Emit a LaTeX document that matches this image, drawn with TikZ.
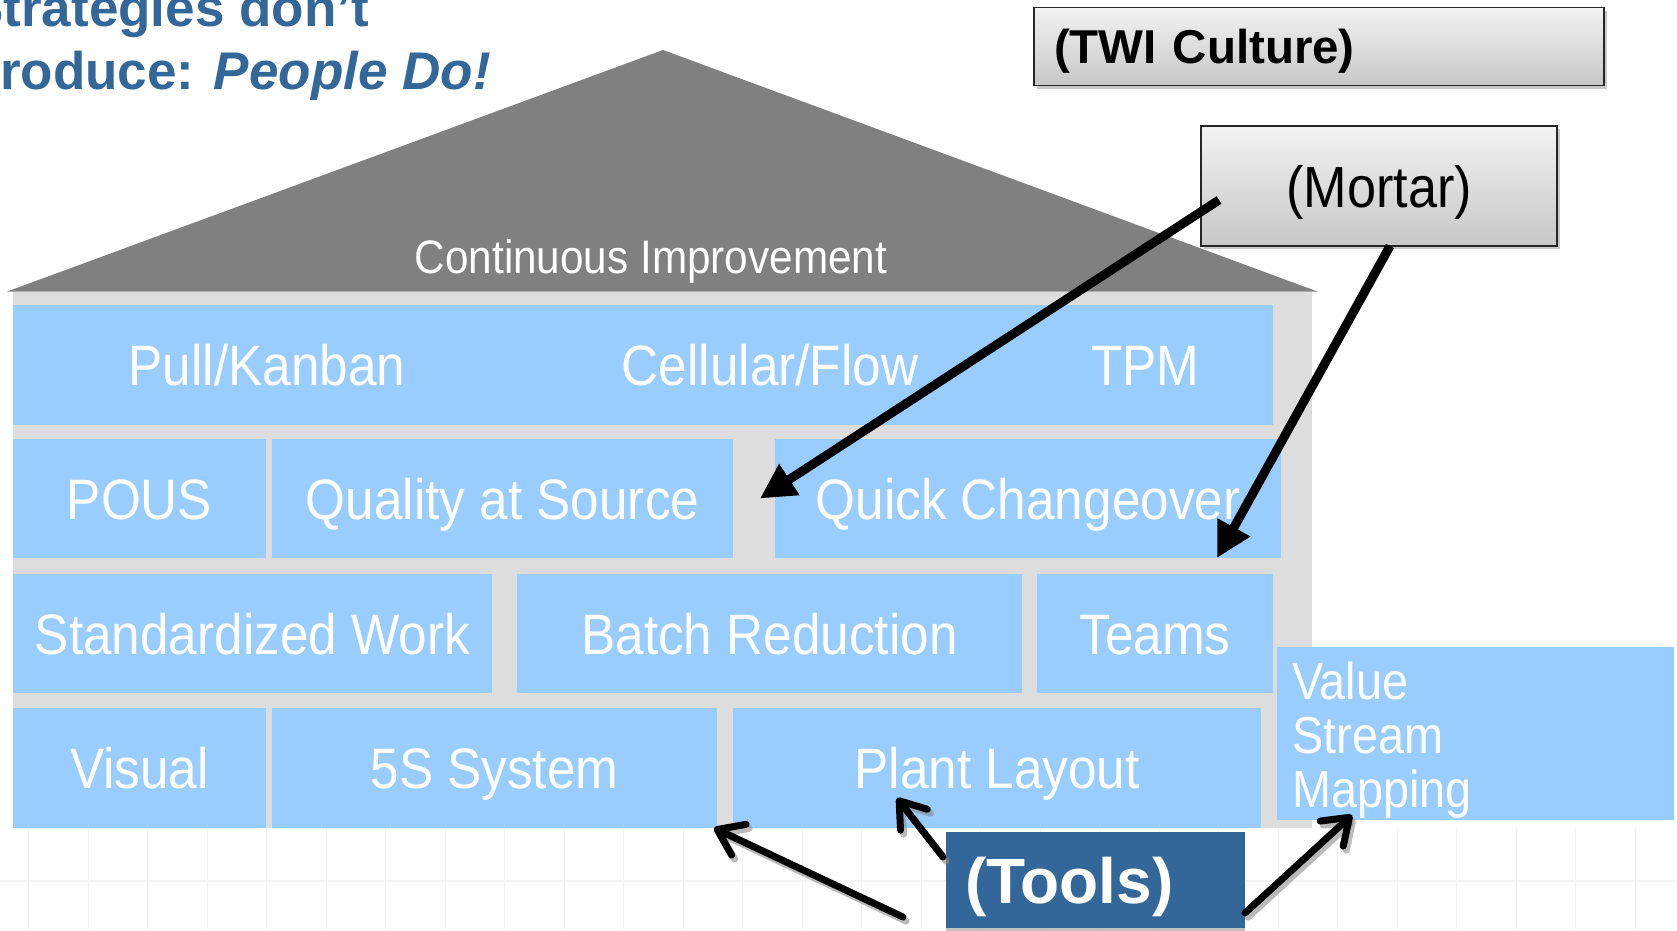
\documentclass[tikz,border=0pt]{standalone}
\usepackage{fontspec}
\setmainfont{Liberation Sans}
\newfontfamily\narrowsans[FakeStretch=0.9]{Liberation Sans}
\usetikzlibrary{arrows.meta,shadows,calc}
\definecolor{roofgray}{HTML}{808080}
\definecolor{wallgray}{HTML}{DDDDDD}
\definecolor{brickblue}{HTML}{99CCFF}
\definecolor{steelblue}{HTML}{336699}
\definecolor{gridgray}{HTML}{F3F3F3}
\begin{document}
\begin{tikzpicture}[x=1pt,y=-1pt,
  brick/.style={fill=brickblue, inner sep=0pt, outer sep=0pt, text=white,
    font=\narrowsans\fontsize{57}{57}\selectfont, text height=41pt, text depth=0pt},
  bricktext/.style={inner sep=0pt, text=white,
    font=\narrowsans\fontsize{57}{57}\selectfont, text height=41pt, text depth=0pt},
  titletext/.style={inner sep=0pt, text=steelblue, font=\bfseries\fontsize{53}{63}\selectfont},
  labelbox/.style={draw=black!85, line width=1.8pt, top color=black!5, bottom color=black!22,
    inner sep=0pt, outer sep=0pt,
    drop shadow={shadow xshift=3pt, shadow yshift=-3pt, opacity=0.35, fill=black!60}},
  mortarline/.style={line width=9pt, -{Triangle[length=35pt,width=35pt]}},
  toolline/.style={line width=7pt, line cap=round,
    -{Straight Barb[round,length=24pt,width=34pt]}},
  toolshadow/.style={toolline, draw=black!45, opacity=0.6},
  gridline/.style={draw=gridgray, line width=1.2pt}]

\useasboundingbox (0,0) rectangle (1677,930);
\clip (0,0) rectangle (1677,930);
\fill[white] (0,0) rectangle (1677,930);

% faint table grid along the bottom edge
\foreach \k in {0,...,27}
  \draw[gridline] ({28.7+59.5*\k},828) -- ({28.7+59.5*\k},930);
\draw[gridline] (0,881) -- (1677,881);

% roof and wall of the house
\fill[roofgray] (6.7,291.7) -- (663,50) -- (1318,291.7) -- cycle;
\fill[wallgray] (13,291.7) rectangle (1312,828);
\node[inner sep=0pt, text=white, font=\narrowsans\fontsize{47}{47}\selectfont,
  text height=34pt, text depth=0pt] (ci) at (651,256.3) {Continuous Improvement};

% row 1
\node[brick, minimum width=1260pt, minimum height=120pt] (row1) at (643,365) {};
\node[bricktext] (pull) at (267,365) {Pull/Kanban};
\node[bricktext] (cell) at (770,365) {Cellular/Flow};
\node[bricktext] (tpm) at (1145.5,365) {TPM};

% row 2
\node[brick, minimum width=253pt, minimum height=119pt] (pous) at (139.5,498.5) {POUS};
\node[brick, minimum width=461pt, minimum height=119pt] (qas) at (502.5,498.5) {Quality at Source};
\node[brick, minimum width=506pt, minimum height=119pt] (qc) at (1028,498.5) {Quick Changeover};

% row 3
\node[brick, minimum width=479pt, minimum height=119pt] (std) at (252.5,633.5) {Standardized Work};
\node[brick, minimum width=505pt, minimum height=119pt] (batch) at (769.5,633.5) {Batch Reduction};
\node[brick, minimum width=236pt, minimum height=119pt] (teams) at (1155,633.5) {Teams};

% row 4
\node[brick, minimum width=253pt, minimum height=120pt] (visual) at (139.5,768) {Visual};
\node[brick, minimum width=445pt, minimum height=120pt] (s5) at (494.5,768) {5S System};
\node[brick, minimum width=528pt, minimum height=120pt] (plant) at (997,768) {Plant Layout};

% value stream mapping block
\node[brick, minimum width=397pt, minimum height=173pt] (vsm) at (1475.5,733.5) {};
\node[inner sep=0pt, text=white, anchor=north west, align=left,
  font=\narrowsans\fontsize{52}{54}\selectfont] (vsmtext) at (1292,662)
  {Value\\Stream\\Mapping};

% heading
\node[titletext, anchor=base east] (head1) at (369,26) {Strategies don’t};
\node[titletext, anchor=base east] (head2) at (491,89) {Produce: \textit{People Do!}};

% label boxes
\node[labelbox, minimum width=570pt, minimum height=78pt, text width=530pt, align=left,
  font=\bfseries\fontsize{47.5}{47.5}\selectfont, text height=34pt, text depth=0pt]
  (twi) at (1319,46.5) {(TWI Culture)};
\node[labelbox, minimum width=356pt, minimum height=120pt,
  font=\narrowsans\fontsize{58}{58}\selectfont, text height=42pt, text depth=0pt]
  (mortar) at (1379,186) {(Mortar)};
\node[fill=steelblue, inner sep=0pt, outer sep=0pt, minimum width=299pt, minimum height=96pt,
  text width=261pt, align=left, text=white,
  font=\bfseries\fontsize{64}{64}\selectfont, text height=46pt, text depth=0pt,
  drop shadow={shadow xshift=0pt, shadow yshift=-3pt, opacity=0.4, fill=black!60}]
  (tools) at (1095.5,880) {(Tools)};

% mortar arrows
\draw[mortarline] ($(mortar.west)+(18,14)$) -- ($(qas.east)+(27,0)$);
\draw[mortarline] ($(mortar.south)+(11,0)$) -- ($(qc.south)+(189,0)$);

% tool arrows, each with a soft shadow
\coordinate (t1s) at ($(tools.south west)+(-43,-11)$);
\coordinate (t1e) at ($(s5.south east)+(-3,0)$);
\coordinate (t2s) at ($(tools.north west)+(-3,25)$);
\coordinate (t2e) at ($(plant.south west)+(164,-30)$);
\coordinate (t3s) at ($(tools.east)+(0,33)$);
\coordinate (t3e) at ($(vsm.south west)+(75,-5)$);
\draw[toolshadow] ($(t1s)+(3,4)$) -- ($(t1e)+(3,4)$);
\draw[toolshadow] ($(t2s)+(3,4)$) -- ($(t2e)+(3,4)$);
\draw[toolshadow] ($(t3s)+(3,4)$) -- ($(t3e)+(3,4)$);
\draw[toolline] (t1s) -- (t1e);
\draw[toolline] (t2s) -- (t2e);
\draw[toolline] (t3s) -- (t3e);
\end{tikzpicture}
\end{document}
